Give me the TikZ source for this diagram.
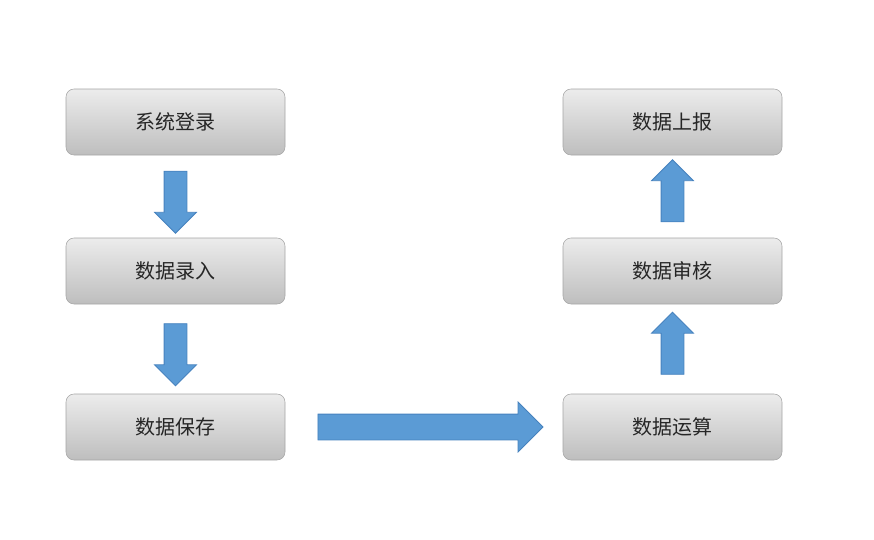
\documentclass[tikz,border=0pt]{standalone}
\usepackage{fontspec}
\setmainfont{Noto Sans CJK SC}
\usetikzlibrary{positioning,calc,shapes.arrows}
\definecolor{boxtop}{RGB}{236,236,236}
\definecolor{boxbottom}{RGB}{190,190,190}
\definecolor{boxline}{RGB}{165,165,165}
\definecolor{arrowblue}{RGB}{91,155,213}
\definecolor{arrowline}{RGB}{70,130,190}

\begin{document}
\begin{tikzpicture}[x=0.75pt, y=-0.75pt,
    stage/.style={rectangle, rounded corners=6pt, minimum width=219*0.75pt, minimum height=66*0.75pt,
        top color=boxtop, bottom color=boxbottom, draw=boxline, font=\fontsize{15}{18}\selectfont, text=black!85},
    flow/.style={single arrow, fill=arrowblue, draw=arrowline, line width=0.6pt, inner sep=0pt,
        single arrow tip angle=90},
    vflow/.style={flow, minimum width=41*0.75pt, minimum height=62*0.75pt,
        single arrow head extend=9.5*0.75pt, text height=22*0.75pt, text depth=0pt},
    hflow/.style={flow, minimum width=49*0.75pt, minimum height=225*0.75pt,
        single arrow head extend=12*0.75pt, text height=25*0.75pt, text depth=0pt}
]
\useasboundingbox (0,0) rectangle (874,539);

% Left column
\node[stage] (login) at (175.5,122) {系统登录};
\node[stage] (input) at (175.5,271) {数据录入};
\node[stage] (save) at (175.5,427) {数据保存};

% Right column
\node[stage] (calc) at (672.5,427) {数据运算};
\node[stage] (check) at (672.5,271) {数据审核};
\node[stage] (report) at (672.5,122) {数据上报};

% Arrows
\node[vflow, rotate=-90] (a1) at ($(login)!0.5!(input)$) {};
\node[vflow, rotate=-90] (a2) at ($(input)!0.5!(save)$) {};
\node[hflow] (a3) at ($(save)!0.5!(calc)$) {};
\node[vflow, rotate=90] (a4) at ($(calc)!0.5!(check)$) {};
\node[vflow, rotate=90] (a5) at ($(check)!0.5!(report)$) {};

\end{tikzpicture}
\end{document}
